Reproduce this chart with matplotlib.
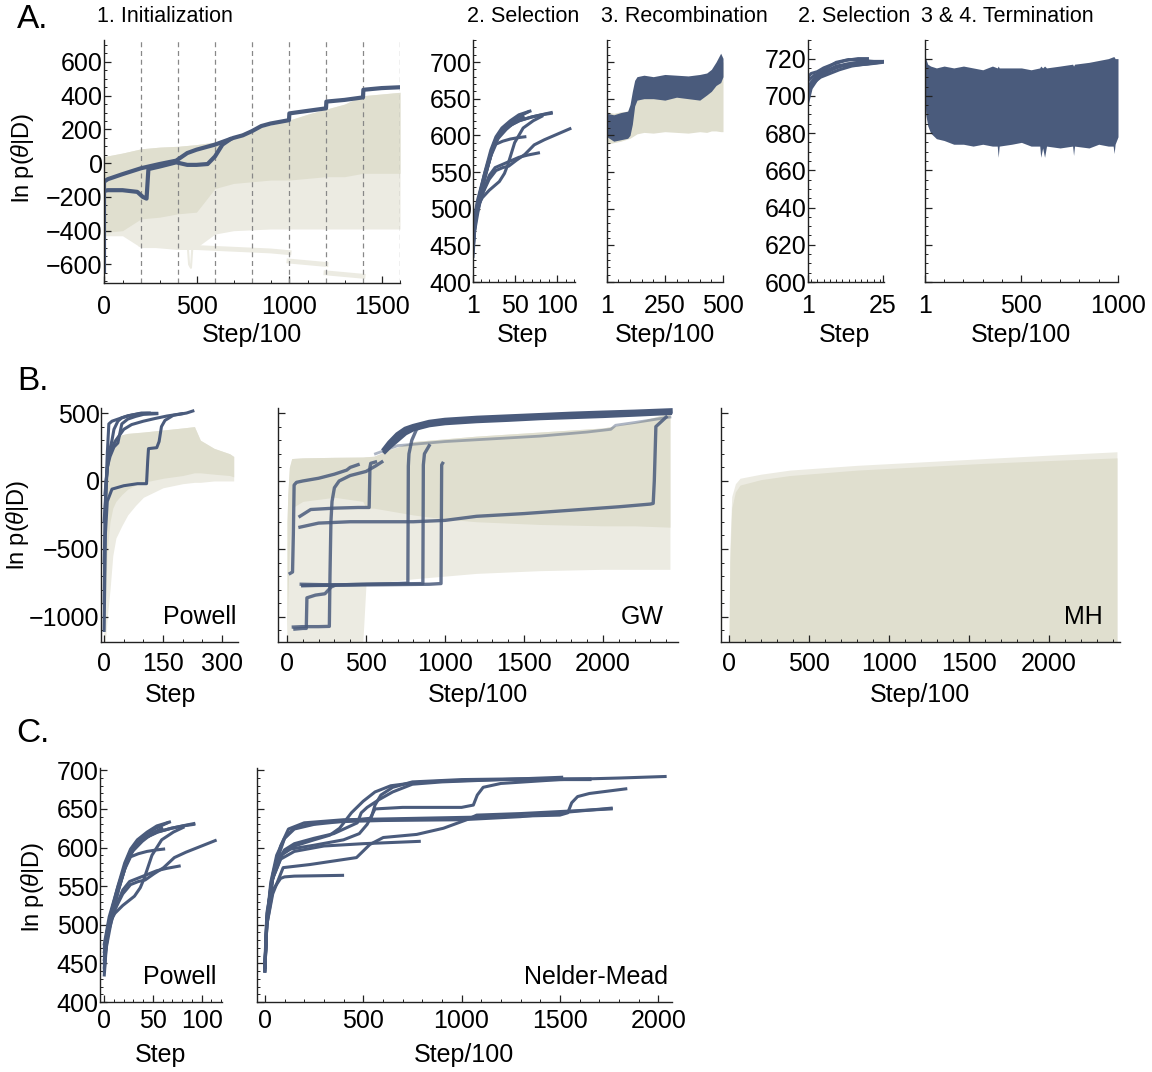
import matplotlib
matplotlib.use("Agg")
import matplotlib.pyplot as plt
from matplotlib.ticker import MultipleLocator

plt.rcParams['font.family'] = ['Liberation Sans', 'DejaVu Sans']
plt.rcParams['mathtext.fontset'] = 'custom'
plt.rcParams['mathtext.rm'] = 'Liberation Sans'
plt.rcParams['mathtext.it'] = 'Liberation Sans:italic'

BLUE = '#4a5b7c'
BEIGE = '#e0dfcf'
BEIGE_L = '#ecebe2'

# ---------------- data: A1 initialization ----------------
init_grid = [200, 400, 600, 800, 1000, 1200, 1400, 1600]
init_bg_x = [0, 5, 100, 200, 300, 400, 500, 600, 700, 800, 900, 1000, 1100, 1200, 1300, 1400, 1500, 1600]
init_bg_hi = [30, 40, 60, 85, 95, 100, 110, 125, 160, 200, 225, 255, 290, 320, 350, 400, 410, 420]
init_bg_lo = [-650, -430, -430, -500, -500, -500, -500, -420, -400, -395, -390, -390, -390, -390, -390, -390, -390, -390]
init_core_lo = [-420, -410, -400, -330, -320, -300, -290, -150, -120, -110, -100, -100, -90, -80, -80, -60, -60, -60]
init_out1_x = [200, 300, 400, 500, 600, 700, 800, 900, 1000]
init_out1_y = [-480, -490, -500, -500, -505, -510, -515, -520, -530]
init_out2_x = [1000, 1100, 1200]
init_out2_y = [-580, -590, -600]
init_out3_x = [1200, 1300, 1400]
init_out3_y = [-650, -660, -670]
init_out4_x = [450, 460, 470, 480]
init_out4_y = [-450, -600, -620, -460]
init_b1_x = [0, 0, 20, 100, 200, 300, 390, 450, 500, 550, 600, 650, 700, 750, 800, 850, 900, 950, 1000, 1002, 1100, 1200, 1202, 1300, 1400, 1402, 1500, 1600]
init_b1_y = [-640, -110, -95, -65, -30, -5, 15, 60, 80, 95, 110, 130, 150, 165, 190, 220, 235, 245, 255, 295, 310, 325, 365, 375, 390, 435, 445, 450]
init_b2_x = [0, 20, 100, 180, 210, 230, 240, 300, 390, 450, 500, 560, 600, 640, 680]
init_b2_y = [-165, -160, -160, -170, -200, -210, -35, -20, 5, -10, -10, -5, 40, 110, 140]

# ---------------- data: Powell selection (A2 and C1) ----------------
pw_x = [
    [1, 3, 8, 15, 22, 28, 35, 45, 55, 68],
    [1, 4, 10, 18, 25, 32, 42, 55, 70, 85, 93],
    [1, 5, 12, 20, 28, 36, 43, 52, 62, 73, 85, 95, 105, 115],
    [1, 5, 12, 20, 27, 35, 45, 55, 65, 78],
    [1, 6, 14, 22, 28, 36, 45, 55, 62],
    [1, 4, 10, 18, 26, 34, 44, 56, 70, 82, 93],
    [1, 5, 12, 20, 25, 32, 38, 42, 50, 60, 72, 82],
    [1, 6, 14, 22, 30, 40, 50, 60],
    [1, 3, 9, 16, 24, 32, 42, 54, 66],
]
pw_y = [
    [440, 480, 515, 550, 580, 598, 610, 620, 628, 633],
    [450, 490, 525, 560, 585, 600, 612, 620, 625, 629, 631],
    [460, 495, 520, 540, 552, 556, 558, 566, 574, 587, 594, 599, 604, 609],
    [455, 490, 520, 545, 556, 560, 565, 570, 573, 576],
    [470, 505, 540, 572, 588, 592, 595, 597, 598],
    [445, 485, 520, 555, 590, 605, 613, 620, 625, 628, 630],
    [465, 500, 515, 525, 530, 537, 548, 560, 590, 610, 620, 626],
    [475, 510, 545, 575, 595, 608, 618, 625],
    [435, 470, 510, 548, 580, 600, 615, 625, 632],
]

# ---------------- data: A3 recombination ----------------
rec_x = [1, 30, 60, 90, 100, 110, 120, 130, 160, 200, 250, 300, 350, 400, 430, 450, 470, 490, 500]
rec_blue_hi = [630, 628, 631, 633, 642, 660, 675, 680, 682, 680, 683, 682, 681, 683, 685, 690, 700, 712, 705]
rec_blue_lo = [598, 592, 594, 596, 600, 615, 640, 648, 650, 650, 648, 652, 650, 648, 655, 660, 668, 672, 680]
rec_bg_hi = [632, 630, 632, 633, 640, 650, 660, 662, 665, 665, 665, 668, 668, 670, 672, 680, 690, 700, 700]
rec_bg_lo = [588, 590, 592, 595, 596, 598, 600, 602, 604, 603, 605, 604, 603, 605, 604, 606, 606, 605, 605]

# ---------------- data: A4 second selection ----------------
sel2_x = [
    [1, 2, 4, 7, 10, 14, 18, 22, 25.5],
    [1, 2, 4, 7, 10, 14, 18, 22, 25],
    [1, 3, 6, 9, 12, 16, 20, 25],
    [1, 2, 5, 8, 11, 15, 19, 24],
    [1, 3, 6, 10, 13, 17, 21],
    [1, 2, 4, 6, 9, 13, 17, 20],
]
sel2_y = [
    [697, 704, 709, 713, 716, 717, 717.5, 718, 718.5],
    [703, 707, 711, 715, 718, 719.5, 719, 718.5, 718.5],
    [708, 711, 713, 715, 716, 716.5, 717, 718],
    [700, 706, 710, 712, 714, 716, 717, 718],
    [705, 709, 712, 715, 717, 718, 718],
    [710, 712, 713, 715, 717, 719, 720, 720],
]

# ---------------- data: A5 termination ----------------
term_x = [1, 5, 15, 30, 60, 100, 150, 200, 250, 300, 350, 375, 380, 385, 450, 500, 550, 595, 600, 610, 620, 630, 700, 765, 770, 775, 850, 900, 950, 975, 980, 985, 1000]
term_hi = [722, 720, 717, 716, 715, 716, 715, 716, 715, 714, 716, 715, 716, 715, 715, 715, 714, 715, 716, 715, 716, 715, 716, 717, 716, 717, 718, 719, 720, 721, 721, 720, 720]
term_lo = [700, 690, 684, 680, 677, 676, 674, 674, 673, 674, 673, 673, 667, 673, 674, 675, 673, 673, 667, 672, 667, 673, 672, 673, 668, 673, 672, 674, 673, 673, 669, 674, 678]

# ---------------- data: B1 Powell ----------------
pb_bg_x = [0, 3, 8, 15, 22, 30, 45, 60, 80, 100, 150, 200, 230, 245, 280, 320, 330]
pb_bg_hi = [-400, -50, 150, 250, 300, 320, 340, 350, 355, 360, 375, 390, 400, 300, 240, 200, 180]
pb_bg_lo = [-1185, -1185, -1000, -800, -550, -420, -330, -250, -180, -120, -50, -20, -10, -10, 0, 0, 0]
pb_core_lo = [-1185, -900, -500, -300, -200, -150, -100, -60, -30, -10, 20, 40, 60, 60, 50, 40, 30]
pb_x = [
    [0, 3, 8, 12, 20, 40, 60, 90, 110, 134],
    [0, 5, 12, 20, 25, 35, 45, 70, 95, 115],
    [0, 8, 15, 25, 35, 40, 45, 60, 80, 100, 134],
    [2, 10, 20, 30, 50, 70, 100, 130, 160, 198],
    [0, 3, 8, 20, 50, 85, 108, 111, 113, 134, 140, 146, 155, 176, 210, 226],
]
pb_y = [
    [-900, -200, 200, 420, 440, 460, 480, 495, 498, 498],
    [-600, 0, 200, 300, 380, 440, 465, 485, 500, 500],
    [-300, 100, 180, 250, 280, 350, 420, 455, 475, 490, 495],
    [-100, 150, 250, 300, 380, 415, 440, 460, 478, 495],
    [-1100, -400, -150, -60, -35, -20, -20, 150, 238, 245, 290, 400, 446, 483, 500, 515],
]

# ---------------- data: B2 GW ----------------
gw_bg_x = [0, 5, 15, 30, 100, 300, 480, 500, 550, 650, 800, 1000, 1200, 1600, 2000, 2200, 2424]
gw_bg_hi = [-300, -100, 100, 165, 170, 174, 176, 178, 182, 230, 290, 310, 330, 360, 390, 430, 500]
gw_bg_lo = [-1185, -1185, -1185, -1185, -1185, -1185, -1185, -760, -760, -740, -720, -700, -680, -660, -650, -650, -650]
gw_core_lo = [-1185, -900, -500, -200, -150, -120, -150, -200, -200, -220, -250, -280, -300, -320, -330, -330, -340]
gw_top_x = [620, 650, 700, 750, 800, 900, 1000, 1200, 1400, 1600, 1800, 2000, 2200, 2424]
gw_top1_y = [235, 280, 340, 380, 400, 430, 445, 460, 470, 480, 490, 498, 505, 515]
gw_top2_y = [215, 250, 300, 350, 380, 410, 425, 440, 450, 462, 470, 478, 488, 500]
gw_lines_x = [
    [90, 300, 500, 700, 765, 768, 772, 790, 820, 850],
    [100, 500, 860, 863, 870, 900],
    [100, 500, 900, 975, 979, 985],
    [40, 100, 200, 268, 272, 278, 285, 300, 330, 400, 500, 560, 600],
    [50, 100, 122, 126, 180, 240, 280, 300],
    [20, 35, 40, 45, 60, 100, 200, 300, 378, 400, 450],
    [82, 150, 300, 450, 520, 525, 530, 560],
    [82, 200, 400, 600, 800, 1000, 1200, 1500, 1800, 2100, 2300, 2318, 2325, 2335, 2400],
]
gw_lines_y = [
    [-760, -765, -760, -755, -752, 110, 200, 300, 380, 400],
    [-770, -760, -755, 118, 200, 260],
    [-770, -765, -760, -755, 118, 130],
    [-1075, -1072, -1072, -1070, -700, -300, -150, -50, 0, 40, 70, 110, 140],
    [-1090, -1085, -1085, -860, -840, -830, -780, -770],
    [-680, -670, -400, -30, -10, 0, 20, 50, 80, 100, 120],
    [-260, -210, -200, -195, -195, 100, 130, 140],
    [-340, -310, -300, -300, -300, -290, -260, -240, -215, -190, -170, -165, 0, 400, 470],
]
gw_faint_x = [560, 700, 1000, 1300, 1600, 1900, 2050, 2080, 2200, 2424]
gw_faint_y = [200, 260, 290, 310, 330, 360, 380, 410, 430, 470]

# ---------------- data: B3 MH ----------------
mh_x = [0, 5, 17, 40, 69, 200, 380, 800, 1200, 1600, 2000, 2424]
mh_hi = [-1185, -500, -115, -20, 20, 50, 80, 115, 140, 165, 190, 215]
mh_core_hi = [-1185, -600, -200, -80, -30, 10, 40, 80, 105, 130, 150, 170]

# ---------------- data: C2 Nelder-Mead ----------------
nm_x = [
    [0, 10, 30, 60, 100, 150, 250, 350, 470, 490, 520, 580, 650, 750, 900, 1200, 1509],
    [0, 10, 30, 60, 100, 150, 250, 400, 540, 560, 590, 650, 750, 1000, 1300, 1653],
    [0, 10, 30, 70, 130, 250, 400, 480, 520, 560, 700, 1000, 1060, 1080, 1110, 1200, 1500, 1800, 2035],
    [0, 10, 40, 80, 120, 200, 400, 800, 1200, 1500, 1540, 1560, 1590, 1650, 1835],
    [0, 10, 50, 100, 150, 300, 600, 1000, 1300, 1500, 1761],
    [0, 10, 40, 80, 150, 300, 500, 785],
    [0, 10, 40, 80, 100, 150, 395],
    [0, 10, 40, 93, 229, 466, 534, 602, 772, 908, 1026, 1077, 1300, 1761],
    [0, 10, 40, 90, 150, 250, 330, 380, 440, 500, 560, 640, 760, 900, 1200, 1653],
]
nm_y = [
    [440, 500, 550, 580, 597, 605, 612, 618, 632, 645, 652, 662, 672, 682, 685, 688, 691],
    [445, 505, 555, 590, 612, 624, 630, 634, 638, 655, 668, 678, 685, 688, 689, 689],
    [440, 500, 550, 588, 598, 603, 610, 618, 630, 650, 652, 652, 655, 668, 678, 683, 688, 690, 692],
    [445, 510, 565, 602, 624, 632, 636, 638, 640, 642, 645, 658, 666, 670, 676],
    [450, 515, 575, 612, 626, 633, 635, 636, 640, 645, 651],
    [445, 505, 560, 585, 595, 602, 605, 608],
    [445, 500, 545, 560, 562, 563, 564],
    [440, 500, 540, 574, 578, 587, 604, 613, 617, 625, 636, 642, 644, 650],
    [442, 505, 560, 592, 602, 610, 616, 625, 645, 660, 672, 680, 684, 686, 688, 688],
]

# ---------------- figure ----------------
W, H = 1152, 1072
fig = plt.figure(figsize=(W / 100, H / 100), dpi=100)


def add_ax(l, r, t, b):
    return fig.add_axes([l / W, 1 - b / H, (r - l) / W, (b - t) / H])


def style(ax, ylabels=True, xpad=7.5):
    for s in ['top', 'right']:
        ax.spines[s].set_visible(False)
    for s in ['left', 'bottom']:
        ax.spines[s].set_color('#222222')
        ax.spines[s].set_linewidth(1.0)
    ax.tick_params(which='major', direction='in', length=5, width=0.9, labelsize=18, colors='#222222')
    ax.tick_params(which='minor', direction='in', length=2.5, width=0.7, colors='#222222')
    ax.tick_params(axis='y', pad=1, labelcolor='black')
    ax.tick_params(axis='x', pad=xpad, labelcolor='black')
    if not ylabels:
        ax.tick_params(axis='y', labelleft=False)


def ftext(x, y, s, size=18, **kw):
    fig.text(x / W, 1 - y / H, s, fontsize=size, ha=kw.pop('ha', 'center'), va=kw.pop('va', 'center'), **kw)


YL = r'ln p($\theta$|D)'

# ---- A1 ----
ax = add_ax(104, 400, 40, 283)
ax.set_xlim(0, 1600)
ax.set_ylim(-710, 730)
ax.fill_between(init_bg_x, init_bg_lo, init_bg_hi, color=BEIGE_L, lw=0)
ax.fill_between(init_bg_x, init_core_lo, init_bg_hi, color=BEIGE, lw=0)
for xs, ys in [(init_out1_x, init_out1_y), (init_out2_x, init_out2_y), (init_out3_x, init_out3_y)]:
    ax.plot(xs, ys, color=BEIGE_L, lw=3.5)
ax.plot(init_out4_x, init_out4_y, color=BEIGE_L, lw=1.5)
for g in init_grid:
    ax.axvline(g, color='#888888', lw=0.9, ls=(0, (4, 3)))
ax.plot(init_b2_x, init_b2_y, color=BLUE, lw=3)
ax.plot(init_b1_x, init_b1_y, color=BLUE, lw=3)
style(ax, xpad=8.5)
ax.set_xticks([0, 500, 1000, 1500])
ax.set_yticks([-600, -400, -200, 0, 200, 400, 600])
ax.xaxis.set_minor_locator(MultipleLocator(100))
ax.yaxis.set_minor_locator(MultipleLocator(50))

# ---- A2 ----
ax = add_ax(473, 575, 40, 282)
ax.set_xlim(1, 121)
ax.set_ylim(400, 730)
for xs, ys in zip(pw_x, pw_y):
    ax.plot(xs, ys, color=BLUE, lw=2.2)
style(ax, xpad=8.5)
ax.set_xticks([1, 50, 100])
ax.set_yticks([400, 450, 500, 550, 600, 650, 700])
ax.xaxis.set_minor_locator(MultipleLocator(10))
ax.yaxis.set_minor_locator(MultipleLocator(10))

# ---- A3 ----
ax = add_ax(607, 723, 40, 282)
ax.set_xlim(1, 500)
ax.set_ylim(400, 730)
ax.fill_between(rec_x, rec_bg_lo, rec_bg_hi, color=BEIGE, lw=0)
ax.fill_between(rec_x, rec_blue_lo, rec_blue_hi, color=BLUE, lw=0)
style(ax, ylabels=False, xpad=8.5)
ax.set_xticks([1, 250, 500])
ax.set_yticks([400, 450, 500, 550, 600, 650, 700])
ax.xaxis.set_minor_locator(MultipleLocator(50))
ax.yaxis.set_minor_locator(MultipleLocator(10))

# ---- A4 ----
ax = add_ax(808, 884, 40, 282)
ax.set_xlim(1, 25.3)
ax.set_ylim(600, 730)
for xs, ys in zip(sel2_x, sel2_y):
    ax.plot(xs, ys, color=BLUE, lw=2.2)
style(ax, xpad=8.5)
ax.set_xticks([1, 25])
ax.set_yticks([600, 620, 640, 660, 680, 700, 720])
ax.xaxis.set_minor_locator(MultipleLocator(2))
ax.yaxis.set_minor_locator(MultipleLocator(5))

# ---- A5 ----
ax = add_ax(925, 1118, 40, 282)
ax.set_xlim(1, 1000)
ax.set_ylim(600, 730)
ax.fill_between(term_x, term_lo, term_hi, color=BLUE, lw=0)
style(ax, ylabels=False, xpad=8.5)
ax.set_xticks([1, 500, 1000])
ax.set_yticks([600, 620, 640, 660, 680, 700, 720])
ax.xaxis.set_minor_locator(MultipleLocator(100))
ax.yaxis.set_minor_locator(MultipleLocator(5))

# ---- B1 ----
BYL = (-1185, 537)
ax = add_ax(101, 238, 408, 642)
ax.set_xlim(-8, 341)
ax.set_ylim(*BYL)
ax.fill_between(pb_bg_x, pb_bg_lo, pb_bg_hi, color=BEIGE_L, lw=0)
ax.fill_between(pb_bg_x, pb_core_lo, pb_bg_hi, color=BEIGE, lw=0)
for xs, ys in zip(pb_x, pb_y):
    ax.plot(xs, ys, color=BLUE, lw=2.2)
style(ax)
ax.set_xticks([0, 150, 300])
ax.set_yticks([-1000, -500, 0, 500])
ax.xaxis.set_minor_locator(MultipleLocator(50))
ax.yaxis.set_minor_locator(MultipleLocator(100))

# ---- B2 ----
ax = add_ax(278, 678, 408, 642)
ax.set_xlim(-57, 2475)
ax.set_ylim(*BYL)
ax.fill_between(gw_bg_x, gw_bg_lo, gw_bg_hi, color=BEIGE_L, lw=0)
ax.fill_between(gw_bg_x, gw_core_lo, gw_bg_hi, color=BEIGE, lw=0)
ax.plot(gw_faint_x, gw_faint_y, color=BLUE, lw=2, alpha=0.45)
for xs, ys in zip(gw_lines_x, gw_lines_y):
    ax.plot(xs, ys, color=BLUE, lw=2.4, alpha=0.85)
ax.plot(gw_top_x, gw_top2_y, color=BLUE, lw=3)
ax.plot(gw_top_x, gw_top1_y, color=BLUE, lw=4)
style(ax, ylabels=False)
ax.set_xticks([0, 500, 1000, 1500, 2000])
ax.set_yticks([-1000, -500, 0, 500])
ax.xaxis.set_minor_locator(MultipleLocator(100))
ax.yaxis.set_minor_locator(MultipleLocator(100))

# ---- B3 ----
ax = add_ax(721, 1120, 408, 642)
ax.set_xlim(-50, 2443)
ax.set_ylim(*BYL)
ax.fill_between(mh_x, BYL[0], mh_hi, color=BEIGE_L, lw=0)
ax.fill_between(mh_x, BYL[0], mh_core_hi, color=BEIGE, lw=0)
style(ax, ylabels=False)
ax.set_xticks([0, 500, 1000, 1500, 2000])
ax.set_yticks([-1000, -500, 0, 500])
ax.xaxis.set_minor_locator(MultipleLocator(100))
ax.yaxis.set_minor_locator(MultipleLocator(100))

# ---- C1 ----
ax = add_ax(100, 222, 768, 1002)
ax.set_xlim(-4.4, 121)
ax.set_ylim(400, 703)
for xs, ys in zip(pw_x, pw_y):
    ax.plot([v - 1 for v in xs], ys, color=BLUE, lw=2.2)
style(ax, xpad=5)
ax.set_xticks([0, 50, 100])
ax.set_yticks([400, 450, 500, 550, 600, 650, 700])
ax.xaxis.set_minor_locator(MultipleLocator(10))
ax.yaxis.set_minor_locator(MultipleLocator(10))

# ---- C2 ----
ax = add_ax(257, 672, 768, 1002)
ax.set_xlim(-40, 2070)
ax.set_ylim(400, 703)
for xs, ys in zip(nm_x, nm_y):
    ax.plot(xs, ys, color=BLUE, lw=2.2)
style(ax, ylabels=False, xpad=5)
ax.set_xticks([0, 500, 1000, 1500, 2000])
ax.set_yticks([400, 450, 500, 550, 600, 650, 700])
ax.xaxis.set_minor_locator(MultipleLocator(100))
ax.yaxis.set_minor_locator(MultipleLocator(10))

# ---- texts ----
ftext(33, 19, 'A.', size=24)
ftext(33, 381, 'B.', size=24)
ftext(33, 733, 'C.', size=24)
ftext(97, 17, '1. Initialization', size=15.5, ha='left')
ftext(523, 17, '2. Selection', size=15.5)
ftext(684, 17, '3. Recombination', size=15.5)
ftext(854, 17, '2. Selection', size=15.5)
ftext(1007, 17, '3 & 4. Termination', size=15.5)

ftext(22, 158, YL, size=17, rotation=90)
ftext(18, 525, YL, size=17, rotation=90)
ftext(33, 887, YL, size=17, rotation=90)

ftext(252, 335, 'Step/100')
ftext(523, 335, 'Step')
ftext(665, 335, 'Step/100')
ftext(845, 335, 'Step')
ftext(1021, 335, 'Step/100')
ftext(170, 695, 'Step')
ftext(478, 695, 'Step/100')
ftext(920, 695, 'Step/100')
ftext(161, 1055, 'Step')
ftext(464, 1055, 'Step/100')

ftext(236, 617, 'Powell', ha='right')
ftext(664, 617, 'GW', ha='right')
ftext(1103, 617, 'MH', ha='right')
ftext(216, 977, 'Powell', ha='right')
ftext(668, 977, 'Nelder-Mead', ha='right')

fig.savefig('out.png', dpi=100)
